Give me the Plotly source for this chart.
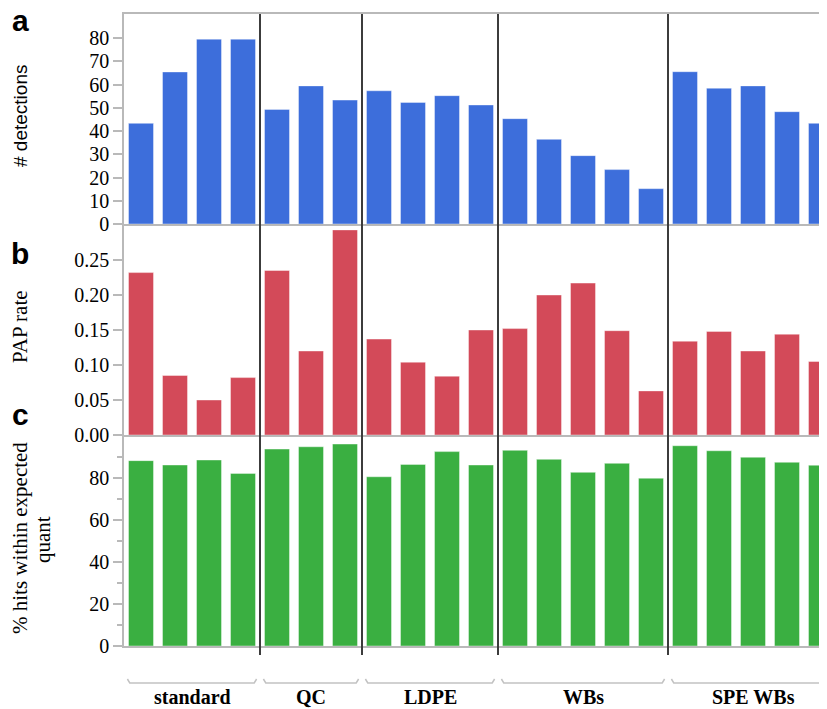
import plotly.graph_objects as go

# ---------------- data ----------------
groups = ["standard", "QC", "LDPE", "WBs", "SPE WBs"]
group_sizes = [4, 3, 4, 5, 5]

detections = [43.3, 65.4, 79.5, 79.5,
              49.3, 59.4, 53.3,
              57.3, 52.3, 55.2, 51.2,
              45.3, 36.4, 29.4, 23.4, 15.2,
              65.5, 58.4, 59.4, 48.3, 43.3]

pap_rate = [0.232, 0.085, 0.050, 0.082,
            0.235, 0.120, 0.293,
            0.137, 0.104, 0.084, 0.150,
            0.152, 0.200, 0.217, 0.149, 0.063,
            0.134, 0.148, 0.120, 0.144, 0.105]

pct_hits = [88.4, 86.3, 88.7, 82.3,
            93.9, 95.0, 96.3,
            80.7, 86.6, 92.7, 86.3,
            93.3, 89.0, 82.8, 87.1, 80.0,
            95.5, 93.1, 90.0, 87.6, 86.2]

det_ticks = [0, 10, 20, 30, 40, 50, 60, 70, 80]
pap_ticks = [0.0, 0.05, 0.10, 0.15, 0.20, 0.25]
hit_ticks = [0, 20, 40, 60, 80]

panel_letters = ["a", "b", "c"]
# --------------------------------------

categories = [f"{g} {i + 1}" for g, n in zip(groups, group_sizes) for i in range(n)]

# page body has an 8px default margin: work in window pixels and convert
OX, OY = 8, 8
WIN_W, WIN_H = 827, 709
W, H = WIN_W - OX, WIN_H - OY
PLOT_L = 124                       # window px of plot left edge
ML = PLOT_L - OX
PW = WIN_W - PLOT_L
SLOT = 34.0


def px_x(px):
    return (px - PLOT_L) / PW


def px_y(py):
    return 1 - (py - OY) / H


x_range = [-0.5, -0.5 + PW / SLOT]

BLUE = "#3D6EDB"
RED = "#D34A59"
GREEN = "#3AAF41"
AXC = "#b9b9b9"
SERIF = "Liberation Serif"
SANS = "Liberation Sans"

fig = go.Figure()
edge = dict(width=0.8, color="rgba(255,255,255,0.5)")
fig.add_trace(go.Bar(x=categories, y=detections, marker=dict(color=BLUE, line=edge),
                     xaxis="x", yaxis="y", showlegend=False))
fig.add_trace(go.Bar(x=categories, y=pap_rate, marker=dict(color=RED, line=edge),
                     xaxis="x2", yaxis="y2", showlegend=False))
fig.add_trace(go.Bar(x=categories, y=pct_hits, marker=dict(color=GREEN, line=edge),
                     xaxis="x3", yaxis="y3", showlegend=False))

xcommon = dict(type="category", range=x_range, domain=[0, 1], showgrid=False, zeroline=False,
               showticklabels=False, ticks="", showline=True, linecolor=AXC, linewidth=1.5,
               categoryorder="array", categoryarray=categories)
ycommon = dict(showgrid=False, zeroline=False, showline=True, linecolor=AXC, linewidth=1.5,
               ticks="outside", ticklen=9, tickwidth=1.5, tickcolor=AXC,
               tickfont=dict(family=SERIF, size=20, color="black"))

fig.update_layout(
    width=W, height=H,
    margin=dict(l=ML, r=0, t=0, b=0, autoexpand=False),
    paper_bgcolor="white", plot_bgcolor="white",
    bargap=1 - 25 / SLOT,
    xaxis=dict(**xcommon, anchor="y", mirror=True),
    xaxis2=dict(**xcommon, anchor="y2"),
    xaxis3=dict(**xcommon, anchor="y3"),
    yaxis=dict(**ycommon, anchor="x", domain=[px_y(224), px_y(14)],
               range=[0, (224 - 14) / 2.325], tickvals=det_ticks),
    yaxis2=dict(**ycommon, anchor="x2", domain=[px_y(435), px_y(226)],
                range=[0, (435 - 226) / 700.0], tickvals=pap_ticks, tickformat=".2f"),
    yaxis3=dict(**ycommon, anchor="x3", domain=[px_y(646), px_y(437)],
                range=[0, (646 - 437) / 2.097], tickvals=hit_ticks,
                minor=dict(tickvals=[10, 30, 50, 70, 90], ticks="outside", ticklen=5,
                           tickcolor=AXC, tickwidth=1.5)),
)

shapes = []
annotations = []

# group separators and brackets
start = 0
for g, n in zip(groups, group_sizes):
    end = start + n - 1
    if end < len(categories) - 1:
        b = end + 0.5
        shapes.append(dict(type="line", xref="x", yref="paper", x0=b, x1=b,
                           y0=px_y(655), y1=px_y(14), line=dict(color="#3c3c3c", width=2), layer="above"))
    x0 = start - 0.5 + 0.1
    x1 = end + 0.5 - 0.1
    yb, yu = px_y(683), px_y(679)
    shapes.append(dict(type="path", xref="x3", yref="paper",
                       path=f"M {x0},{yu} L {x0 + 0.07},{yb} L {x1 - 0.07},{yb} L {x1},{yu}",
                       line=dict(color="#c2c2c2", width=1.5)))
    annotations.append(dict(xref="x3", yref="paper", x=(start + end) / 2, y=px_y(697),
                            text=g, showarrow=False, xanchor="center", yanchor="middle",
                            font=dict(family=SERIF, size=20, color="black", weight="bold")))
    start = end + 1

# panel letters
for letter, ypx in zip(panel_letters, [20, 253, 414]):
    annotations.append(dict(xref="paper", yref="paper", x=px_x(20), y=px_y(ypx), text=f"<b>{letter}</b>",
                            showarrow=False, xanchor="center", yanchor="middle",
                            font=dict(family=SANS, size=30, color="black")))

# y-axis titles
annotations.append(dict(xref="paper", yref="paper", x=px_x(21), y=px_y(116), text="# detections",
                        showarrow=False, textangle=-90, xanchor="center", yanchor="middle",
                        font=dict(family=SANS, size=19, color="black")))
annotations.append(dict(xref="paper", yref="paper", x=px_x(20), y=px_y(327), text="PAP rate",
                        showarrow=False, textangle=-90, xanchor="center", yanchor="middle",
                        font=dict(family=SERIF, size=21, color="black")))
annotations.append(dict(xref="paper", yref="paper", x=px_x(20), y=px_y(538), text="% hits within expected",
                        showarrow=False, textangle=-90, xanchor="center", yanchor="middle",
                        font=dict(family=SERIF, size=21, color="black")))
annotations.append(dict(xref="paper", yref="paper", x=px_x(43), y=px_y(540), text="quant",
                        showarrow=False, textangle=-90, xanchor="center", yanchor="middle",
                        font=dict(family=SERIF, size=21, color="black")))

fig.update_layout(shapes=shapes, annotations=annotations)

fig.write_html("out.html")
